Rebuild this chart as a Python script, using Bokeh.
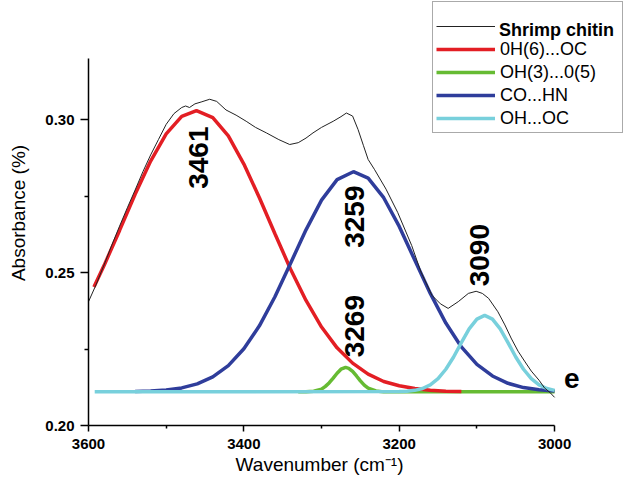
import math
from bokeh.plotting import figure
from bokeh.models import (Range1d, FixedTicker, PrintfTickFormatter, Legend,
                          LegendItem, Label, ColumnDataSource)
from bokeh.core.properties import value
from bokeh.embed import file_html
from bokeh.resources import INLINE

# ---- data ----
black_w = [3600, 3590, 3580, 3570, 3560, 3550, 3540, 3530, 3520, 3510,
           3500, 3490, 3480, 3475, 3470, 3463, 3455, 3444, 3435, 3423,
           3410, 3397, 3385, 3371, 3355, 3341, 3330, 3320, 3311, 3300,
           3285, 3275, 3268, 3260, 3253, 3246, 3240, 3232, 3217, 3202,
           3184, 3172, 3158, 3147, 3137, 3124, 3111, 3101, 3093, 3085,
           3073, 3064, 3056, 3047, 3038, 3030, 3020, 3013, 3006, 3000]
black_a = [0.2405, 0.2462, 0.2525, 0.2590, 0.2652, 0.2712, 0.2770, 0.2830, 0.2885, 0.2935,
           0.2985, 0.3020, 0.3040, 0.3045, 0.3040, 0.3052, 0.3058, 0.3067, 0.3060, 0.3032,
           0.3015, 0.2995, 0.2975, 0.2957, 0.2935, 0.2919, 0.2925, 0.2940, 0.2957, 0.2975,
           0.2995, 0.3010, 0.3022, 0.3012, 0.2968, 0.2915, 0.2870, 0.2838, 0.2773, 0.2697,
           0.2589, 0.2502, 0.2426, 0.2398, 0.2383, 0.2405, 0.2432, 0.2439, 0.2432, 0.2416,
           0.2372, 0.2329, 0.2286, 0.2243, 0.2208, 0.2178, 0.2148, 0.2123, 0.2108, 0.2092]

red_w = [3593, 3580, 3560, 3540, 3520, 3500, 3480, 3461, 3440, 3420, 3400, 3380,
         3360, 3340, 3320, 3300, 3280, 3260, 3240, 3220, 3200, 3180, 3160, 3140, 3120]
red_a = [0.2453, 0.2523, 0.2638, 0.2756, 0.2865, 0.2954, 0.3011, 0.3030, 0.3007, 0.2947,
         0.2855, 0.2745, 0.2627, 0.2512, 0.2409, 0.2322, 0.2254, 0.2204, 0.2168, 0.2144,
         0.2130, 0.2121, 0.2115, 0.2112, 0.2111]

blue_w = [3540, 3520, 3500, 3480, 3460, 3440, 3420, 3400, 3380, 3360, 3340, 3320, 3300,
          3280, 3259, 3240, 3220, 3200, 3180, 3160, 3140, 3120, 3100, 3080, 3060, 3040,
          3020, 3000]
blue_a = [0.2111, 0.2113, 0.2116, 0.2123, 0.2136, 0.2159, 0.2196, 0.2251, 0.2326, 0.2421,
          0.2530, 0.2640, 0.2737, 0.2804, 0.2830, 0.2809, 0.2745, 0.2651, 0.2541, 0.2432,
          0.2335, 0.2257, 0.2200, 0.2162, 0.2138, 0.2124, 0.2117, 0.2113]

green_w = [3330, 3320, 3310, 3300, 3295, 3290, 3285, 3280, 3275, 3269, 3265, 3260,
           3255, 3250, 3245, 3240, 3230, 3220, 3000]
green_a = [0.2110, 0.2110, 0.2112, 0.2119, 0.2128, 0.2140, 0.2155, 0.2171, 0.2184, 0.2190,
           0.2187, 0.2177, 0.2162, 0.2146, 0.2132, 0.2122, 0.2113, 0.2110, 0.2110]

cyan_w = [3592, 3200, 3190, 3180, 3170, 3160, 3150, 3140, 3130, 3120, 3110, 3100,
          3090, 3080, 3070, 3060, 3050, 3040, 3030, 3020, 3010, 3000]
cyan_a = [0.2110, 0.2111, 0.2112, 0.2115, 0.2121, 0.2133, 0.2153, 0.2184, 0.2224, 0.2271,
          0.2316, 0.2348, 0.2360, 0.2348, 0.2316, 0.2271, 0.2224, 0.2184, 0.2153, 0.2133,
          0.2121, 0.2115]

series_names = ["Shrimp chitin", "0H(6)...OC", "OH(3)...0(5)", "CO...HN", "OH...OC"]

peak_labels = ["3461", "3259", "3269", "3090"]
peak_label_x = [3459, 3258, 3258, 3097]
peak_label_y = [0.2876, 0.2683, 0.2325, 0.2557]

panel_letter = "e"
panel_letter_x = 2978
panel_letter_y = 0.2153

x_ticks = [3000, 3200, 3400, 3600]
x_minor = [3100, 3300, 3500]
y_ticks = [0.20, 0.25, 0.30]
y_minor = [0.225, 0.275]
x_axis_span = (3000, 3600)
y_axis_span = (0.20, 0.32)

x_title = "Wavenumber (cm\u207b\u00b9)"
y_title = "Absorbance (%)"

FONT = "Liberation Sans"

p = figure(width=624, height=477, output_backend="svg", toolbar_location=None,
           x_range=Range1d(3600, 2910), y_range=Range1d(0.20, 0.339),
           min_border_left=88, min_border_right=0, min_border_top=0,
           min_border_bottom=49)
p.outline_line_color = None
p.xgrid.visible = False
p.ygrid.visible = False
p.background_fill_color = "white"
p.border_fill_color = "white"

r_green = p.line(green_w, green_a, line_color="#66bb33", line_width=3.5)
r_red = p.line(red_w, red_a, line_color="#e31e24", line_width=3.5)
r_blue = p.line(blue_w, blue_a, line_color="#2f3d9b", line_width=3.5)
r_cyan = p.line(cyan_w, cyan_a, line_color="#78d0dc", line_width=3.5)
r_black = p.line(black_w, black_a, line_color="#222222", line_width=1)
# empty, invisible renderer used only as the key of the bold legend row
r_key = p.line(x=[], y=[], line_alpha=0)

src = ColumnDataSource(dict(x=peak_label_x, y=peak_label_y, t=peak_labels))
p.text(x="x", y="y", text="t", source=src, angle=math.pi / 2,
       text_font=value(FONT), text_font_style="bold", text_font_size="28px",
       text_align="center", text_baseline="middle", text_color="black")

p.add_layout(Label(x=panel_letter_x, y=panel_letter_y, text=panel_letter,
                   text_font=FONT, text_font_style="bold", text_font_size="28px",
                   text_align="center", text_baseline="middle", text_color="black"))

for ax in (p.xaxis[0], p.yaxis[0]):
    ax.axis_line_width = 1.5
    ax.axis_line_color = "black"
    ax.major_tick_line_width = 1.5
    ax.minor_tick_line_width = 1.5
    ax.major_tick_in = 0
    ax.minor_tick_in = 0
    ax.major_label_text_font = FONT
    ax.major_label_text_font_style = "bold"
    ax.major_label_text_font_size = "15px"
    ax.major_label_text_color = "black"
    ax.axis_label_text_font = FONT
    ax.axis_label_text_font_style = "normal"
    ax.axis_label_text_font_size = "19px"
    ax.axis_label_text_color = "black"

p.xaxis.ticker = FixedTicker(ticks=x_ticks, minor_ticks=x_minor)
p.yaxis.ticker = FixedTicker(ticks=y_ticks, minor_ticks=y_minor)
p.xaxis.bounds = x_axis_span
p.yaxis.bounds = y_axis_span
p.yaxis.formatter = PrintfTickFormatter(format="%.2f")
p.xaxis.major_tick_out = 6
p.xaxis.minor_tick_out = 3
p.yaxis.major_tick_out = 8
p.yaxis.minor_tick_out = 4
p.xaxis.major_label_standoff = 7
p.yaxis.major_label_standoff = 6
# the frame runs on to the right edge (so the legend is not clipped); trailing
# no-break spaces keep the x title centred under the drawn axis span
p.xaxis.axis_label = x_title + "\u00a0" * 14
p.yaxis.axis_label = y_title
p.xaxis.axis_label_standoff = 2
p.yaxis.axis_label_standoff = 13

renderers = [r_black, r_red, r_green, r_blue, r_cyan]
common = dict(label_text_font=FONT, label_text_font_size="18px",
              label_text_color="black", glyph_width=59, glyph_height=22,
              label_height=22, label_width=119, label_standoff=5, spacing=1,
              padding=3, margin=0, title=" ", title_text_font_size="9px",
              title_standoff=0)

items_a = [LegendItem(label=" ", renderers=[renderers[0]])] + [
    LegendItem(label=n, renderers=[r]) for n, r in zip(series_names[1:], renderers[1:])]
legend_a = Legend(items=items_a, location=(344, 292),
                  border_line_color="#555555", border_line_width=1.5,
                  background_fill_color="white", background_fill_alpha=1.0,
                  **common)
legend_b = Legend(items=[LegendItem(label=series_names[0], renderers=[r_key])],
                  location=(347, 292 + 92), border_line_color=None,
                  background_fill_alpha=0.0, label_text_font_style="bold",
                  **common)
p.add_layout(legend_a)
p.add_layout(legend_b)

open("out.html", "w").write(file_html(p, INLINE))
